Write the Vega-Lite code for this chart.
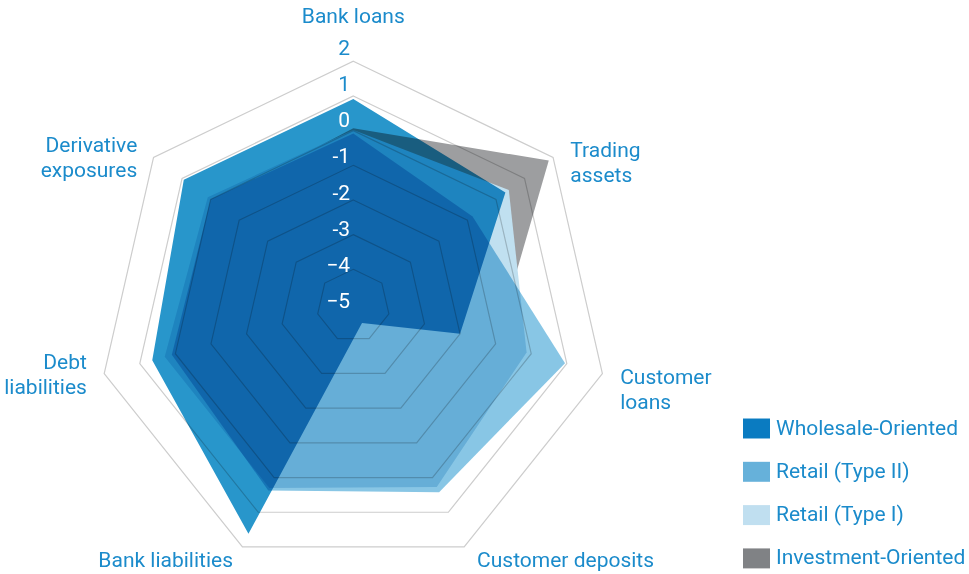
{
  "$schema": "https://vega.github.io/schema/vega-lite/v6.json",
  "width": 969,
  "height": 574,
  "autosize": {"type": "none"},
  "padding": 0,
  "background": "white",
  "view": {"stroke": null},
  "config": {"font": "Roboto", "text": {"font": "Roboto"}},
  "datasets": {
    "polys": [
      {"group": "Investment-Oriented", "axis": "Bank loans", "idx": 0, "value": 0.07},
      {"group": "Investment-Oriented", "axis": "Trading assets", "idx": 1, "value": 1.85},
      {"group": "Investment-Oriented", "axis": "Customer loans", "idx": 2, "value": -1.0},
      {"group": "Investment-Oriented", "axis": "Customer deposits", "idx": 3, "value": -0.6},
      {"group": "Investment-Oriented", "axis": "Bank liabilities", "idx": 4, "value": -0.4},
      {"group": "Investment-Oriented", "axis": "Debt liabilities", "idx": 5, "value": -0.2},
      {"group": "Investment-Oriented", "axis": "Derivative exposures", "idx": 6, "value": -0.1},
      {"group": "Retail (Type I)", "axis": "Bank loans", "idx": 0, "value": 0.02},
      {"group": "Retail (Type I)", "axis": "Trading assets", "idx": 1, "value": 0.45},
      {"group": "Retail (Type I)", "axis": "Customer loans", "idx": 2, "value": -0.13},
      {"group": "Retail (Type I)", "axis": "Customer deposits", "idx": 3, "value": 0.27},
      {"group": "Retail (Type I)", "axis": "Bank liabilities", "idx": 4, "value": 0.3},
      {"group": "Retail (Type I)", "axis": "Debt liabilities", "idx": 5, "value": 0.3},
      {"group": "Retail (Type I)", "axis": "Derivative exposures", "idx": 6, "value": 0.1},
      {"group": "Retail (Type II)", "axis": "Bank loans", "idx": 0, "value": -0.08},
      {"group": "Retail (Type II)", "axis": "Trading assets", "idx": 1, "value": -0.82},
      {"group": "Retail (Type II)", "axis": "Customer loans", "idx": 2, "value": 0.95},
      {"group": "Retail (Type II)", "axis": "Customer deposits", "idx": 3, "value": 0.42},
      {"group": "Retail (Type II)", "axis": "Bank liabilities", "idx": 4, "value": 0.37},
      {"group": "Retail (Type II)", "axis": "Debt liabilities", "idx": 5, "value": 0.1},
      {"group": "Retail (Type II)", "axis": "Derivative exposures", "idx": 6, "value": 0.0},
      {"group": "Wholesale-Oriented", "axis": "Bank loans", "idx": 0, "value": 0.91},
      {"group": "Wholesale-Oriented", "axis": "Trading assets", "idx": 1, "value": 0.33},
      {"group": "Wholesale-Oriented", "axis": "Customer loans", "idx": 2, "value": -2.0},
      {"group": "Wholesale-Oriented", "axis": "Customer deposits", "idx": 3, "value": -4.45},
      {"group": "Wholesale-Oriented", "axis": "Bank liabilities", "idx": 4, "value": 1.62},
      {"group": "Wholesale-Oriented", "axis": "Debt liabilities", "idx": 5, "value": 0.65},
      {"group": "Wholesale-Oriented", "axis": "Derivative exposures", "idx": 6, "value": 0.94}
    ],
    "rings": [
      {"level": 2, "idx": [0, 1, 2, 3, 4, 5, 6]},
      {"level": 1, "idx": [0, 1, 2, 3, 4, 5, 6]},
      {"level": 0, "idx": [0, 1, 2, 3, 4, 5, 6]},
      {"level": -1, "idx": [0, 1, 2, 3, 4, 5, 6]},
      {"level": -2, "idx": [0, 1, 2, 3, 4, 5, 6]},
      {"level": -3, "idx": [0, 1, 2, 3, 4, 5, 6]},
      {"level": -4, "idx": [0, 1, 2, 3, 4, 5, 6]}
    ],
    "ticks": [
      {"tick": 2, "label": "2"},
      {"tick": 1, "label": "1"},
      {"tick": 0, "label": "0"},
      {"tick": -1, "label": "-1"},
      {"tick": -2, "label": "-2"},
      {"tick": -3, "label": "-3"},
      {"tick": -4, "label": "−4"},
      {"tick": -5, "label": "−5"}
    ],
    "labels": [
      {"idx": 0, "label": "Bank loans"},
      {"idx": 1, "label": "Trading\nassets"},
      {"idx": 2, "label": "Customer\nloans"},
      {"idx": 3, "label": "Customer deposits"},
      {"idx": 4, "label": "Bank liabilities"},
      {"idx": 5, "label": "Debt\nliabilities"},
      {"idx": 6, "label": "Derivative\nexposures"}
    ]
  },
  "encoding": {
    "x": {"field": "px", "type": "quantitative", "scale": {"domain": [-9.6795, 16.8685], "nice": false, "zero": false}, "axis": null},
    "y": {"field": "py", "type": "quantitative", "scale": {"domain": [-7.3973, 8.3288], "nice": false, "zero": false}, "axis": null}
  },
  "layer": [
    {
      "data": {"name": "polys"},
      "transform": [
        {"filter": "datum.group === 'Investment-Oriented'"},
        {"calculate": "datum.idx * 2 * PI / 7", "as": "th"},
        {"calculate": "(datum.value + 5) * sin(datum.th)", "as": "px"},
        {"calculate": "(datum.value + 5) * (cos(datum.th) - 0.05)", "as": "py"}
      ],
      "mark": {"type": "line", "interpolate": "linear-closed", "fill": "#9d9ea0", "strokeWidth": 0},
      "encoding": {"order": {"field": "idx", "type": "quantitative"}}
    },
    {
      "data": {"name": "polys"},
      "transform": [
        {"filter": "datum.group === 'Retail (Type I)'"},
        {"calculate": "datum.idx * 2 * PI / 7", "as": "th"},
        {"calculate": "(datum.value + 5) * sin(datum.th)", "as": "px"},
        {"calculate": "(datum.value + 5) * (cos(datum.th) - 0.05)", "as": "py"}
      ],
      "mark": {"type": "line", "interpolate": "linear-closed", "fill": "#c0e0f0", "strokeWidth": 0},
      "encoding": {"order": {"field": "idx", "type": "quantitative"}}
    },
    {
      "data": {"name": "polys"},
      "transform": [
        {"filter": "datum.group === 'Retail (Type II)'"},
        {"calculate": "datum.idx * 2 * PI / 7", "as": "th"},
        {"calculate": "(datum.value + 5) * sin(datum.th)", "as": "px"},
        {"calculate": "(datum.value + 5) * (cos(datum.th) - 0.05)", "as": "py"}
      ],
      "mark": {"type": "line", "interpolate": "linear-closed", "fill": "#88c6e5", "strokeWidth": 0, "blend": "multiply"},
      "encoding": {"order": {"field": "idx", "type": "quantitative"}}
    },
    {
      "data": {"name": "polys"},
      "transform": [
        {"filter": "datum.group === 'Wholesale-Oriented'"},
        {"calculate": "datum.idx * 2 * PI / 7", "as": "th"},
        {"calculate": "(datum.value + 5) * sin(datum.th)", "as": "px"},
        {"calculate": "(datum.value + 5) * (cos(datum.th) - 0.05)", "as": "py"}
      ],
      "mark": {"type": "line", "interpolate": "linear-closed", "fill": "#2896cb", "strokeWidth": 0, "blend": "multiply"},
      "encoding": {"order": {"field": "idx", "type": "quantitative"}}
    },
    {
      "data": {"name": "rings"},
      "transform": [
        {"flatten": ["idx"]},
        {"calculate": "datum.idx * 2 * PI / 7", "as": "th"},
        {"calculate": "(datum.level + 5) * sin(datum.th)", "as": "px"},
        {"calculate": "(datum.level + 5) * (cos(datum.th) - 0.05)", "as": "py"}
      ],
      "mark": {"type": "line", "interpolate": "linear-closed", "stroke": "#cdcdcd", "strokeWidth": 1.2, "blend": "multiply"},
      "encoding": {
        "detail": {"field": "level", "type": "nominal"},
        "order": {"field": "idx", "type": "quantitative"}
      }
    },
    {
      "data": {"name": "ticks"},
      "transform": [
        {"filter": "datum.tick >= 1"},
        {"calculate": "0", "as": "px"},
        {"calculate": "(datum.tick + 5) * 0.99", "as": "py"}
      ],
      "mark": {"type": "text", "align": "right", "dx": -3.3, "dy": -2, "fontSize": 21, "color": "#1b8bcb"},
      "encoding": {"text": {"field": "label", "type": "nominal"}}
    },
    {
      "data": {"name": "ticks"},
      "transform": [
        {"filter": "datum.tick < 1"},
        {"calculate": "0", "as": "px"},
        {"calculate": "(datum.tick + 5) * 0.99", "as": "py"}
      ],
      "mark": {"type": "text", "align": "right", "dx": -3.3, "dy": -2, "fontSize": 21, "color": "#ffffff"},
      "encoding": {"text": {"field": "label", "type": "nominal"}}
    },
    {
      "data": {"name": "labels"},
      "transform": [
        {"filter": "datum.idx === 0"},
        {"calculate": "datum.idx * 2 * PI / 7", "as": "th"},
        {"calculate": "7.5 * sin(datum.th)", "as": "px"},
        {"calculate": "7.5 * (cos(datum.th) - 0.05)", "as": "py"}
      ],
      "mark": {"type": "text", "align": "center", "dy": -27, "fontSize": 21, "color": "#1b8bcb", "lineBreak": "\n", "lineHeight": 25},
      "encoding": {"text": {"field": "label", "type": "nominal"}}
    },
    {
      "data": {"name": "labels"},
      "transform": [
        {"filter": "datum.idx === 1"},
        {"calculate": "datum.idx * 2 * PI / 7", "as": "th"},
        {"calculate": "7.5 * sin(datum.th)", "as": "px"},
        {"calculate": "7.5 * (cos(datum.th) - 0.05)", "as": "py"}
      ],
      "mark": {"type": "text", "align": "left", "dx": 3, "dy": 4, "fontSize": 21, "color": "#1b8bcb", "lineBreak": "\n", "lineHeight": 25},
      "encoding": {"text": {"field": "label", "type": "nominal"}}
    },
    {
      "data": {"name": "labels"},
      "transform": [
        {"filter": "datum.idx === 2"},
        {"calculate": "datum.idx * 2 * PI / 7", "as": "th"},
        {"calculate": "7.5 * sin(datum.th)", "as": "px"},
        {"calculate": "7.5 * (cos(datum.th) - 0.05)", "as": "py"}
      ],
      "mark": {"type": "text", "align": "left", "dx": 0, "dy": -1, "fontSize": 21, "color": "#1b8bcb", "lineBreak": "\n", "lineHeight": 25},
      "encoding": {"text": {"field": "label", "type": "nominal"}}
    },
    {
      "data": {"name": "labels"},
      "transform": [
        {"filter": "datum.idx === 3"},
        {"calculate": "datum.idx * 2 * PI / 7", "as": "th"},
        {"calculate": "7.5 * sin(datum.th)", "as": "px"},
        {"calculate": "7.5 * (cos(datum.th) - 0.05)", "as": "py"}
      ],
      "mark": {"type": "text", "align": "left", "dx": 5, "dy": -3, "fontSize": 21, "color": "#1b8bcb", "lineBreak": "\n", "lineHeight": 25},
      "encoding": {"text": {"field": "label", "type": "nominal"}}
    },
    {
      "data": {"name": "labels"},
      "transform": [
        {"filter": "datum.idx === 4"},
        {"calculate": "datum.idx * 2 * PI / 7", "as": "th"},
        {"calculate": "7.5 * sin(datum.th)", "as": "px"},
        {"calculate": "7.5 * (cos(datum.th) - 0.05)", "as": "py"}
      ],
      "mark": {"type": "text", "align": "right", "dx": -1.5, "dy": -3, "fontSize": 21, "color": "#1b8bcb", "lineBreak": "\n", "lineHeight": 25},
      "encoding": {"text": {"field": "label", "type": "nominal"}}
    },
    {
      "data": {"name": "labels"},
      "transform": [
        {"filter": "datum.idx === 5"},
        {"calculate": "datum.idx * 2 * PI / 7", "as": "th"},
        {"calculate": "7.5 * sin(datum.th)", "as": "px"},
        {"calculate": "7.5 * (cos(datum.th) - 0.05)", "as": "py"}
      ],
      "mark": {"type": "text", "align": "right", "dx": 0.5, "dy": -16, "fontSize": 21, "color": "#1b8bcb", "lineBreak": "\n", "lineHeight": 25},
      "encoding": {"text": {"field": "label", "type": "nominal"}}
    },
    {
      "data": {"name": "labels"},
      "transform": [
        {"filter": "datum.idx === 6"},
        {"calculate": "datum.idx * 2 * PI / 7", "as": "th"},
        {"calculate": "7.5 * sin(datum.th)", "as": "px"},
        {"calculate": "7.5 * (cos(datum.th) - 0.05)", "as": "py"}
      ],
      "mark": {"type": "text", "align": "right", "dx": -2, "dy": -1, "fontSize": 21, "color": "#1b8bcb", "lineBreak": "\n", "lineHeight": 25},
      "encoding": {"text": {"field": "label", "type": "nominal"}}
    },
    {
      "data": {"name": "polys"},
      "transform": [
        {"calculate": "0", "as": "px"},
        {"calculate": "0", "as": "py"}
      ],
      "mark": {"type": "square", "opacity": 0},
      "encoding": {
        "color": {
          "field": "group",
          "type": "nominal",
          "scale": {
            "domain": ["Wholesale-Oriented", "Retail (Type II)", "Retail (Type I)", "Investment-Oriented"],
            "range": ["#0a7bc1", "#66b1da", "#c0dff0", "#808285"]
          },
          "legend": {
            "orient": "none",
            "legendX": 743,
            "legendY": 415,
            "title": null,
            "padding": 0,
            "symbolType": "M-1,-0.74H1V0.74H-1Z",
            "symbolSize": 729,
            "symbolOpacity": 1,
            "symbolStrokeWidth": 0,
            "labelFont": "Roboto",
            "labelFontSize": 21,
            "labelColor": "#1b8bcb",
            "labelOffset": 6,
            "labelLimit": 300,
            "rowPadding": 19.3
          }
        }
      }
    }
  ]
}
